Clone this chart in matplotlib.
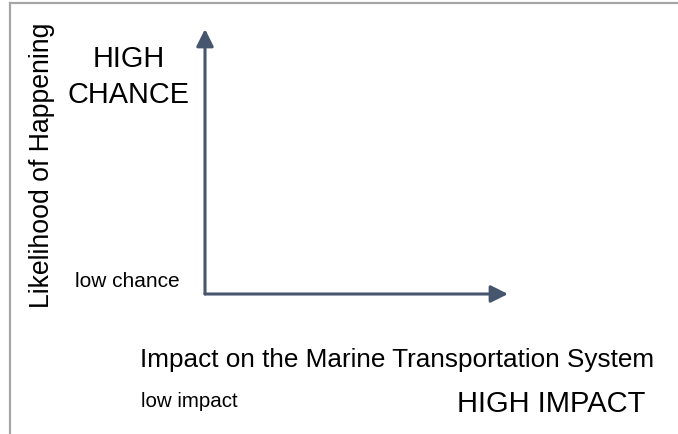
import matplotlib.pyplot as plt
from matplotlib.lines import Line2D

plt.rcParams['font.family'] = ['Liberation Sans', 'DejaVu Sans']

# labels of the risk diagram
y_label = 'Likelihood of Happening'
y_high = ['HIGH', 'CHANCE']
y_low = 'low chance'
x_label = 'Impact on the Marine Transportation System'
x_low = 'low impact'
x_high = 'HIGH IMPACT'

arrow_color = '#47566f'
border_color = '#a6a6a6'

W, H = 678, 435
fig = plt.figure(figsize=(W / 100, H / 100), dpi=100)

# frame lines at top and left
fig.add_artist(Line2D([10 / W, 1], [1 - 4 / H, 1 - 4 / H], color=border_color, lw=1.6))
fig.add_artist(Line2D([10 / W, 10 / W], [0, 1 - 4 / H], color=border_color, lw=1.6))

# axes whose corner is the origin of both arrows
ax = fig.add_axes([205 / W, 1 - 295 / H, (508 - 205) / W, (295 - 30) / H])
ax.set_axis_off()
arrow = dict(arrowstyle='-|>', lw=2.2, color=arrow_color, mutation_scale=26,
             shrinkA=0, shrinkB=0)
ax.annotate('', xy=(1, 0), xytext=(0, 0), xycoords='axes fraction', arrowprops=arrow)
ax.annotate('', xy=(0, 1), xytext=(0, 0), xycoords='axes fraction', arrowprops=arrow)

# pixel position (from top-left) -> figure fraction
def px(x, y):
    return x / W, 1 - y / H

fig.text(*px(49, 165), y_label, rotation=90, rotation_mode='anchor',
         fontsize=19.2, ha='center', va='baseline')
for line, base in zip(y_high, [67, 103]):
    fig.text(*px(128.5, base), line, fontsize=20.8, ha='center', va='baseline')
fig.text(*px(127, 287), y_low, fontsize=15, ha='center', va='baseline')
fig.text(*px(397.5, 367), x_label, fontsize=18.8, ha='center', va='baseline')
fig.text(*px(189, 407), x_low, fontsize=14.8, ha='center', va='baseline')
fig.text(*px(551, 412), x_high, fontsize=21, ha='center', va='baseline')

fig.savefig('out.png', dpi=100)
